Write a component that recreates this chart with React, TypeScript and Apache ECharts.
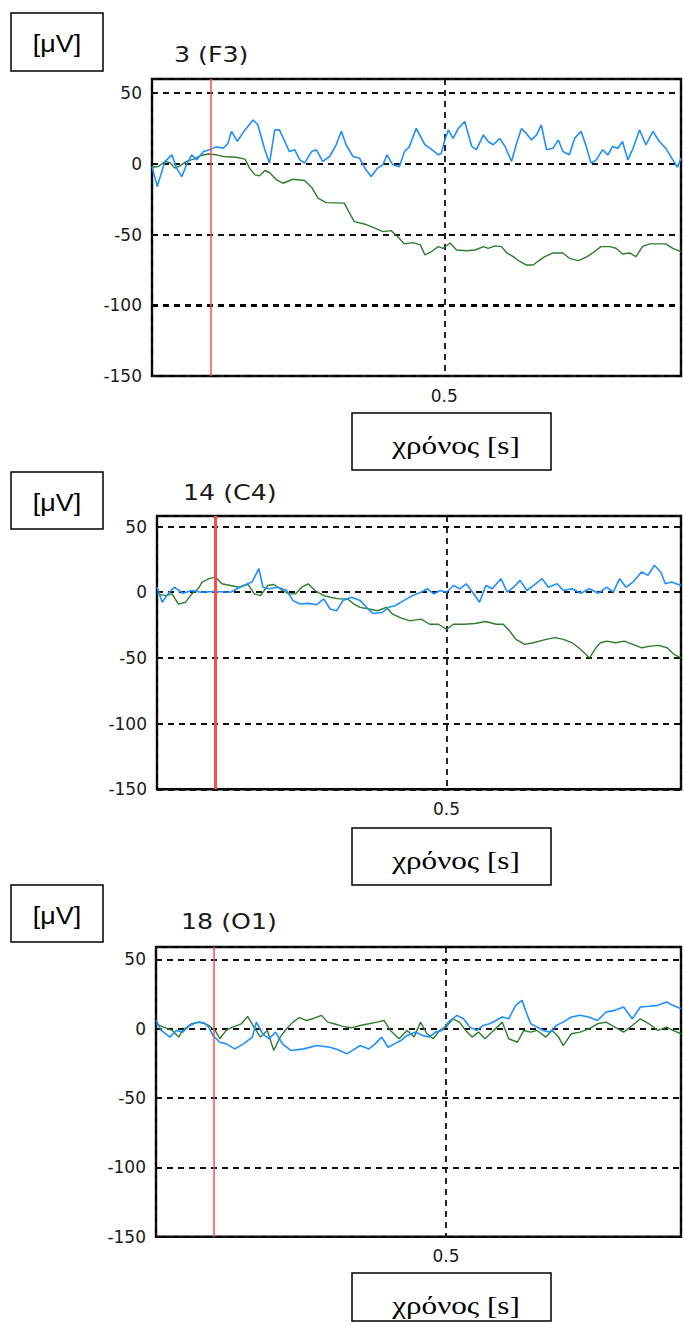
import React, { useEffect, useRef } from "react";
import * as echarts from "echarts";

// ---------- data ----------
const PANEL_TITLES = ["3 (F3)", "14 (C4)", "18 (O1)"];
const Y_UNIT_LABEL = "[μV]";
const X_UNIT_LABEL = "χρόνος [s]";
const Y_TICKS = [50, 0, -50, -100, -150];
const X_TICKS = [0.5];
const Y_MIN = -150;
const Y_MAX = [60, 58, 59];
const X_MIN = 0;
const X_MAX = 0.905;
const STIMULUS_T = 0.097;

// channel 3 (F3): [time s, µV]
const F3_BLUE: [number, number][] = [
  [0, -1.9], [0.009, -16], [0.022, 1.6], [0.034, 6.4], [0.042, -3], [0.051, -9], [0.059, -0.7], [0.068, 6.4],
  [0.076, 2.8], [0.088, 8.7], [0.099, 10], [0.11, 12], [0.122, 11], [0.13, 14.6], [0.136, 23], [0.146, 16],
  [0.159, 24], [0.173, 31], [0.181, 27.6], [0.193, 10], [0.201, 0.5], [0.21, 24], [0.218, 24], [0.227, 16],
  [0.235, 8.7], [0.244, 10], [0.253, 2.8], [0.261, 0.5], [0.273, 8.7], [0.281, 10], [0.292, 1.7], [0.304, 5.2],
  [0.315, 13.5], [0.324, 23], [0.332, 13.5], [0.344, 5.2], [0.355, 4], [0.366, -4.2], [0.375, -9], [0.386, -3],
  [0.395, -0.7], [0.402, 6.4], [0.412, -0.7], [0.423, -2], [0.432, 8.7], [0.44, 12], [0.452, 25], [0.467, 13.5],
  [0.476, 11], [0.49, 6.4], [0.495, 7.5], [0.501, 17], [0.507, 24], [0.515, 18], [0.524, 25], [0.535, 30],
  [0.547, 12.3], [0.555, 10], [0.567, 20.5], [0.575, 15.8], [0.584, 13.5], [0.595, 18], [0.604, 12.3], [0.615, 1.7],
  [0.623, 13.5], [0.632, 25], [0.64, 21.7], [0.649, 17], [0.658, 20.5], [0.666, 27.6], [0.675, 10], [0.686, 11],
  [0.695, 17], [0.703, 8.7], [0.714, 6.4], [0.723, 18], [0.734, 23], [0.743, 12.3], [0.751, 0.5], [0.76, 2.8],
  [0.771, 10], [0.78, 6.4], [0.788, 12.3], [0.797, 11], [0.805, 15.8], [0.814, 2.8], [0.823, 11], [0.834, 24],
  [0.845, 13.5], [0.857, 23], [0.868, 15.8], [0.879, 11], [0.891, 2.8], [0.899, -2.4], [0.905, 4],
];
const F3_GREEN: [number, number][] = [
  [0, -2.4], [0.011, -1.9], [0.022, 1.7], [0.031, 0.9], [0.039, -3], [0.048, -1.4], [0.059, 1.7], [0.071, 3.3],
  [0.082, 5.7], [0.096, 7], [0.11, 6.4], [0.122, 5.2], [0.144, 4.7], [0.159, 3.3], [0.167, -3], [0.176, -7.8],
  [0.184, -8.5], [0.193, -4.7], [0.201, -6.1], [0.213, -11.3], [0.224, -13.7], [0.241, -10.9], [0.261, -11.8],
  [0.273, -16.5], [0.284, -24.3], [0.298, -27.4], [0.329, -27.8], [0.338, -34.9], [0.346, -40.8], [0.363, -42.5],
  [0.375, -44.4], [0.395, -47.9], [0.409, -47.2], [0.42, -51.4], [0.432, -56.6], [0.446, -55.7], [0.459, -57.3],
  [0.467, -64.4], [0.478, -62], [0.49, -58.5], [0.498, -59.7], [0.51, -56], [0.521, -60.9], [0.538, -61.4],
  [0.553, -60.9], [0.567, -58.5], [0.575, -59.7], [0.587, -58], [0.598, -58.5], [0.607, -63], [0.618, -65.6],
  [0.629, -69], [0.64, -71.5], [0.652, -71.5], [0.66, -69], [0.672, -65.6], [0.686, -63], [0.703, -63],
  [0.714, -66.8], [0.729, -68.4], [0.743, -66], [0.754, -63], [0.768, -58.5], [0.783, -58.5], [0.794, -59.7],
  [0.805, -63.7], [0.817, -63], [0.828, -65.6], [0.839, -58.5], [0.851, -56.6], [0.879, -56.6], [0.891, -59.7],
  [0.905, -62],
];

// channel 14 (C4)
const C4_BLUE: [number, number][] = [
  [0, 3.8], [0.009, -7.7], [0.019, -1.3], [0.03, 3.8], [0.045, -0.8], [0.06, 1.3], [0.075, 0], [0.097, 0.5],
  [0.127, 0], [0.149, 5.1], [0.164, 7.7], [0.176, 17.9], [0.183, 3.8], [0.194, 2.6], [0.209, 3.8], [0.224, 1.3],
  [0.235, -6.4], [0.247, -9], [0.261, -8.5], [0.276, -9.5], [0.288, -5.1], [0.299, -12.8], [0.31, -14.1],
  [0.321, -6.4], [0.336, -3.8], [0.351, -6.4], [0.362, -11.5], [0.373, -16.2], [0.389, -15.4], [0.4, -11.5],
  [0.411, -10.3], [0.426, -6.4], [0.441, -2.6], [0.456, 0], [0.467, 2.6], [0.478, -1.3], [0.489, 1.3], [0.5, 0],
  [0.512, 5.1], [0.523, 2.6], [0.534, 6.4], [0.545, 0], [0.557, -7.7], [0.568, 5.1], [0.579, 2.6], [0.594, 10.3],
  [0.605, 0], [0.616, 3.8], [0.627, 9], [0.639, 1.3], [0.65, 5.1], [0.665, 10.3], [0.676, 3.8], [0.691, 6.4],
  [0.702, 1.3], [0.717, 2.6], [0.732, -0.8], [0.747, 2.6], [0.762, -0.8], [0.777, 3.8], [0.788, 0], [0.799, 10.3],
  [0.81, 3.8], [0.822, 7.7], [0.837, 15.4], [0.848, 12.8], [0.859, 20.5], [0.87, 15.4], [0.878, 6.4],
  [0.889, 7.7], [0.905, 5.1],
];
const C4_GREEN: [number, number][] = [
  [0, -1.3], [0.015, -2.6], [0.026, -1.3], [0.037, -9], [0.049, -7.7], [0.06, -1.3], [0.071, 2.6], [0.078, 7.7],
  [0.09, 10.3], [0.101, 11.5], [0.112, 6.4], [0.127, 5.1], [0.142, 3.8], [0.157, 5.9], [0.168, -1.3],
  [0.179, -2.6], [0.191, 5.1], [0.202, 5.9], [0.217, 1.3], [0.228, -1.3], [0.239, -1.3], [0.25, 3.8], [0.261, 6.4],
  [0.273, 1.3], [0.288, -2.6], [0.299, -3.8], [0.314, -5.1], [0.329, -5.1], [0.34, -9], [0.351, -11.5],
  [0.366, -12.8], [0.381, -14.1], [0.396, -11.5], [0.407, -16.7], [0.422, -19.7], [0.437, -21.8], [0.456, -20.5],
  [0.471, -24.4], [0.486, -24.4], [0.5, -28.2], [0.512, -24.4], [0.53, -24.4], [0.549, -23.8], [0.568, -22.3],
  [0.586, -24.4], [0.598, -24.4], [0.609, -29.5], [0.62, -35.9], [0.635, -39.7], [0.65, -38.5], [0.672, -35.9],
  [0.687, -34.6], [0.702, -35.9], [0.717, -38.5], [0.732, -43.6], [0.747, -50], [0.758, -42.3], [0.766, -38.5],
  [0.777, -37.2], [0.792, -38.5], [0.807, -37.2], [0.822, -39.7], [0.837, -42.3], [0.852, -41], [0.866, -40.5],
  [0.881, -42.3], [0.893, -47.4], [0.905, -50],
];

// channel 18 (O1)
const O1_BLUE: [number, number][] = [
  [0, 6], [0.009, -1.2], [0.024, -6], [0.035, -1.2], [0.046, -2.4], [0.058, 2.4], [0.072, 4.8], [0.084, 4.1],
  [0.091, 1.2], [0.098, -4.8], [0.11, -9.7], [0.121, -10.9], [0.136, -14.5], [0.151, -10.9], [0.166, -6],
  [0.173, 4.8], [0.184, -3.6], [0.195, -7.2], [0.206, -2.4], [0.218, -10.9], [0.233, -15.7], [0.255, -14.5],
  [0.277, -12.1], [0.3, -13.3], [0.314, -15.2], [0.329, -18.1], [0.34, -15.2], [0.352, -12.1], [0.367, -14.5],
  [0.378, -10.9], [0.389, -6], [0.4, -13.3], [0.411, -10.9], [0.422, -8.5], [0.433, -4.8], [0.448, -2.4],
  [0.46, -4.8], [0.471, -6], [0.482, -2.4], [0.493, -1.2], [0.504, 4.8], [0.519, 9.7], [0.53, 7.2], [0.541, 1.2],
  [0.553, -1.2], [0.564, 2.4], [0.575, 3.6], [0.586, 6], [0.597, 8.5], [0.608, 7.2], [0.62, 16.9], [0.631, 20.5],
  [0.638, 12.1], [0.646, 3.6], [0.657, 1.2], [0.668, -1.2], [0.679, -2.4], [0.69, 2.4], [0.702, 4.8], [0.716, 8.5],
  [0.731, 9.7], [0.746, 8.5], [0.761, 6], [0.776, 12.1], [0.791, 13.3], [0.806, 15.7], [0.821, 7.2], [0.835, 15.7],
  [0.85, 16.2], [0.865, 16.9], [0.88, 19.3], [0.891, 16.9], [0.905, 14.5],
];
const O1_GREEN: [number, number][] = [
  [0, 3.6], [0.013, 1.2], [0.028, -1.2], [0.039, -6], [0.046, -1.2], [0.061, 3.6], [0.076, 4.8], [0.091, 2.4],
  [0.102, -1.2], [0.11, -7.2], [0.121, -1.2], [0.132, 1.2], [0.147, 3.6], [0.158, 8.9], [0.169, 1.2], [0.18, -6],
  [0.192, -1.2], [0.203, -15.7], [0.214, -6], [0.225, 0], [0.236, 4.8], [0.247, 8], [0.259, 6], [0.27, 7.2],
  [0.285, 9.7], [0.296, 4.8], [0.307, 3.6], [0.322, 1.7], [0.337, 0.7], [0.352, 2.4], [0.367, 3.6], [0.381, 4.8],
  [0.393, 6], [0.404, -1.2], [0.419, -7.2], [0.433, -1.2], [0.445, -6], [0.456, 4.8], [0.467, -3.6], [0.478, -7.2],
  [0.489, -1.2], [0.5, 1.2], [0.512, 7.2], [0.523, 4.8], [0.534, -1.2], [0.545, -6], [0.556, -2.4], [0.567, -7.2],
  [0.582, -1.2], [0.597, 4.8], [0.608, -7.2], [0.623, -9.7], [0.634, -1.2], [0.646, -2.4], [0.657, -1.2],
  [0.672, -6], [0.683, -1.2], [0.694, -6], [0.702, -12.1], [0.716, -3.6], [0.731, -2.4], [0.746, 0], [0.761, 3.6],
  [0.776, 4.8], [0.791, 1.2], [0.806, -2.4], [0.821, 2.4], [0.835, 7.2], [0.85, 3.6], [0.865, -1.2], [0.88, 1.2],
  [0.891, -1.2], [0.905, -3.6],
];

const BLUE_SERIES = [F3_BLUE, C4_BLUE, O1_BLUE];
const GREEN_SERIES = [F3_GREEN, C4_GREEN, O1_GREEN];

// ---------- layout / style ----------
const BLUE = "#1E8FFF";
const GREEN = "#2E7D2E";
const RED = "#FF4A4A";
const GRID_INK = "#111";
const LAYOUT = [
  { left: 152, top: 79, width: 530, height: 297, titleX: 174, titleY: 55, uBoxY: 13, uBoxH: 58, tBoxY: 413, tBoxH: 57, redW: 1.5, thickMinus100: true },
  { left: 157, top: 516, width: 528.5, height: 273.3, titleX: 183, titleY: 493, uBoxY: 472, uBoxH: 57, tBoxY: 828, tBoxH: 57, redW: 3, thickMinus100: false },
  { left: 156, top: 947, width: 530, height: 289.7, titleX: 181, titleY: 922, uBoxY: 885, uBoxH: 57, tBoxY: 1273, tBoxH: 48, redW: 1.5, thickMinus100: false },
];

function buildOption() {
  const grid: any[] = [];
  const xAxis: any[] = [];
  const yAxis: any[] = [];
  const series: any[] = [];
  const graphic: any[] = [];

  LAYOUT.forEach((L, i) => {
    grid.push({
      left: L.left, top: L.top, width: L.width, height: L.height,
      show: true, borderColor: "#000", borderWidth: 2.4, backgroundColor: "transparent",
    });
    xAxis.push({
      type: "value", gridIndex: i, min: X_MIN, max: X_MAX, interval: 0.5,
      axisLine: { show: false }, axisTick: { show: false },
      axisLabel: {
        margin: 11, fontSize: 17, fontFamily: "DejaVu Sans", color: "#1a1a1a",
        formatter: (v: number) => (X_TICKS.some((t) => Math.abs(t - v) < 1e-6) ? String(v) : ""),
      },
      splitLine: { show: true, lineStyle: { color: GRID_INK, width: 1.8, type: [6, 5] } },
    });
    yAxis.push({
      type: "value", gridIndex: i, min: Y_MIN, max: Y_MAX[i], interval: 50,
      axisLine: { show: false }, axisTick: { show: false },
      axisLabel: {
        margin: 10, fontSize: 17, fontFamily: "DejaVu Sans", color: "#1a1a1a",
        formatter: (v: number) => (Y_TICKS.includes(v) ? String(v) : ""),
      },
      splitLine: { show: true, lineStyle: { color: GRID_INK, width: 1.8, type: [6, 5] } },
    });
    series.push({
      type: "line", xAxisIndex: i, yAxisIndex: i, data: GREEN_SERIES[i],
      showSymbol: false, symbol: "none", lineStyle: { color: GREEN, width: 1.4 }, itemStyle: { color: GREEN },
      z: 2,
      markLine: L.thickMinus100
        ? {
            silent: true, symbol: ["none", "none"], label: { show: false },
            lineStyle: { color: "#000", width: 3, type: [6, 5] },
            data: [{ yAxis: -100 }],
          }
        : undefined,
    });
    series.push({
      type: "line", xAxisIndex: i, yAxisIndex: i, data: BLUE_SERIES[i],
      showSymbol: false, symbol: "none", lineStyle: { color: BLUE, width: 1.6 }, itemStyle: { color: BLUE },
      z: 3,
      markLine: {
        silent: true, symbol: ["none", "none"], label: { show: false },
        lineStyle: { color: RED, width: L.redW, type: "solid" },
        data: [{ xAxis: STIMULUS_T }],
      },
    });

    // panel title
    graphic.push({
      type: "text", x: L.titleX, y: L.titleY, scaleX: 1.15,
      style: {
        text: PANEL_TITLES[i], fontSize: 22, fontFamily: "DejaVu Sans", fill: "#1a1a1a",
        textAlign: "left", textVerticalAlign: "middle", align: "left", verticalAlign: "middle",
      },
    });
    // unit box [µV]
    graphic.push({
      type: "rect", shape: { x: 11, y: L.uBoxY, width: 92, height: L.uBoxH },
      style: { fill: "#fff", stroke: "#000", lineWidth: 1.5 },
    });
    graphic.push({
      type: "text", x: 57, y: L.uBoxY + L.uBoxH / 2 + 2, scaleX: 1.12,
      style: {
        text: Y_UNIT_LABEL, fontSize: 24, fontFamily: "Liberation Sans", fill: "#000",
        textAlign: "center", textVerticalAlign: "middle", align: "center", verticalAlign: "middle",
      },
    });
    // time box
    graphic.push({
      type: "rect", shape: { x: 352, y: L.tBoxY, width: 199, height: L.tBoxH },
      style: { fill: "#fff", stroke: "#000", lineWidth: 1.5 },
    });
    graphic.push({
      type: "text", x: 456, y: L.tBoxY + 32, scaleX: 1.2,
      style: {
        text: X_UNIT_LABEL, fontSize: 26, fontFamily: "Liberation Serif", fill: "#000",
        textAlign: "center", textVerticalAlign: "middle", align: "center", verticalAlign: "middle",
      },
    });
  });

  return {
    animation: false,
    backgroundColor: "#fff",
    textStyle: { fontFamily: "DejaVu Sans" },
    grid, xAxis, yAxis, series, graphic,
  };
}

export default function App() {
  const ref = useRef<HTMLDivElement>(null);
  useEffect(() => {
    if (!ref.current) return;
    const chart = echarts.init(ref.current, null, { renderer: "svg" });
    chart.setOption(buildOption());
    return () => chart.dispose();
  }, []);
  return (
    <div
      ref={ref}
      style={{ position: "absolute", left: 0, top: 0, width: 684, height: 1325, background: "#fff" }}
    />
  );
}
